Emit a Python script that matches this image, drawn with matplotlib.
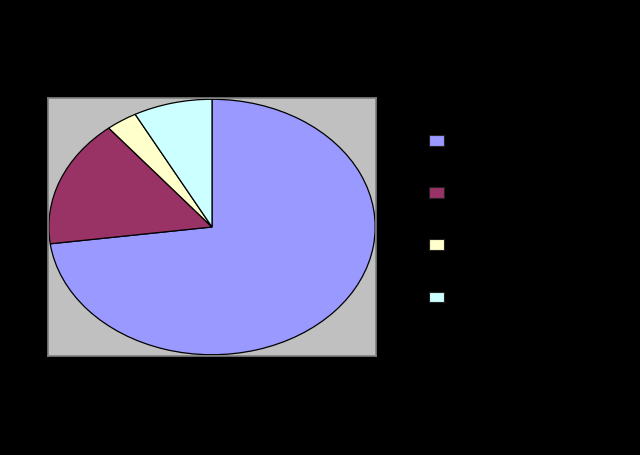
import matplotlib
matplotlib.use('Agg')
import matplotlib.pyplot as plt

# slice shares (percent), clockwise from 12 o'clock
labels = ['Series 1', 'Series 2', 'Series 3', 'Series 4']
shares = [72.9, 16.2, 3.1, 7.8]
colors = ['#9999FF', '#993366', '#FFFFCC', '#CCFFFF']

fig = plt.figure(figsize=(6.4, 4.55), dpi=100, facecolor='black')
ax = fig.add_axes([48 / 640, 1 - 356 / 455, 328 / 640, 258 / 455])
ax.set_facecolor('#C0C0C0')

wedges, _ = ax.pie(shares, colors=colors, startangle=90, counterclock=False,
                   frame=True,
                   wedgeprops=dict(edgecolor='black', linewidth=0.9))
ax.set_aspect('auto')
ax.set_xlim(-1.005, 1.005)
ax.set_ylim(-1.01, 1.01)
ax.set_xticks([])
ax.set_yticks([])
for s in ax.spines.values():
    s.set_edgecolor('#808080')
    s.set_linewidth(1.2)

leg = fig.legend(wedges, labels, loc='upper left',
                 bbox_to_anchor=(418 / 640, 1 - 123 / 455),
                 frameon=False, fontsize=10, labelcolor='black',
                 handlelength=1.05, handleheight=0.8, labelspacing=2.75,
                 borderpad=0.3, handletextpad=0.6)
for h in leg.legend_handles:
    h.set_linewidth(0.8)
    h.set_edgecolor('#222222')

fig.savefig('out.png', dpi=100, facecolor='black')
